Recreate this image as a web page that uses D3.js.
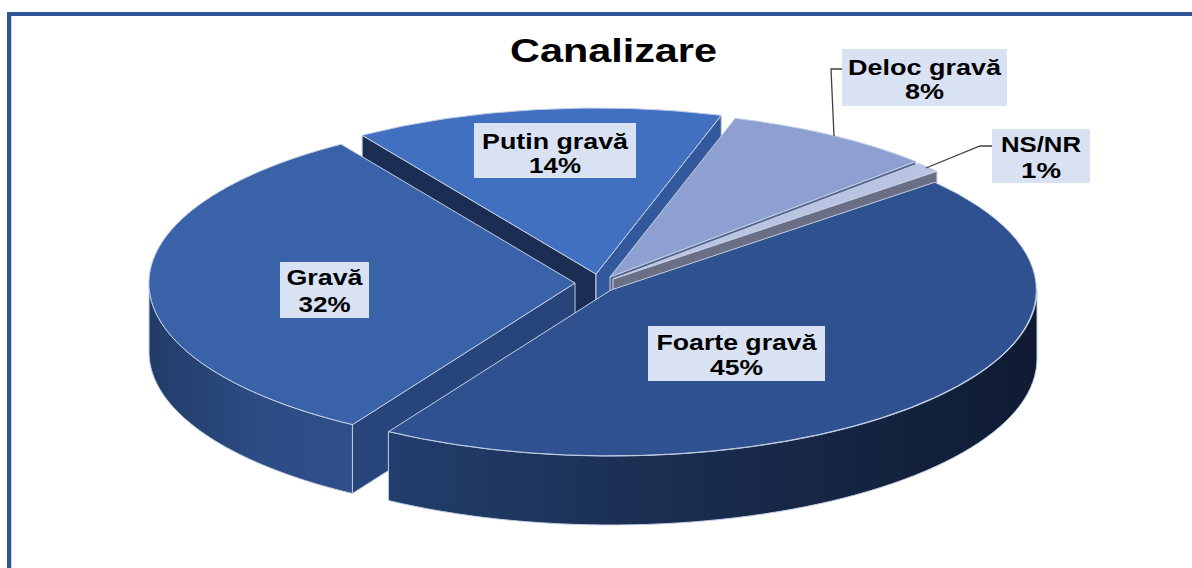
<!DOCTYPE html>
<html>
<head>
<meta charset="utf-8">
<script src="https://cdn.jsdelivr.net/npm/d3@7"></script>
<style>
html, body { margin: 0; padding: 0; background: #fff; }
svg { display: block; }
text { font-family: "Liberation Sans", Arial, sans-serif; font-weight: bold; fill: #000; }
</style>
</head>
<body>
<svg width="1192" height="568"></svg>
<script>
const categories = ["Foarte gravă", "Gravă", "Putin gravă", "Deloc gravă", "NS/NR"];
const values = [45, 32, 14, 8, 1];

const topColors = ["#2f5190", "#3a62a9", "#4170c0", "#8e9fd2", "#b9c4e2"];
const startWallColors = ["#1d3358", "#27457a", "#1b2d53", "#55658f", "#6b6f85"];
const endWallColors = ["#1d3358", "#27457a", "#33589b", "#55658f", "#6b6f85"];
const sideColors = ["#1d3358", "#27457a", "#33589b", "#55658f", "#6b6f85"];
const explode = [[611, 290], [575, 283], [596, 274], [610, 277], [613, 279]];
const drawOrder = [2, 3, 4, 1, 0];

const labelBoxes = [[648, 326, 177, 55], [280, 262, 89, 56], [474, 123, 162, 55], [842, 49, 165, 57], [992, 129, 98, 54]];
const labelWidths = [[160, 53], [76, 52], [146, 52], [153, 39], [80, 40]];
const labelLines = [[24, 49], [23, 50], [26, 50], [26, 50], [23, 49]];

const rx = 426, ry = 166, depth = 69;
const svg = d3.select("svg");
const defs = svg.append("defs");

// frame
svg.append("rect").attr("x", 7).attr("y", 12).attr("width", 1185).attr("height", 4).attr("fill", "#2f5597");
svg.append("rect").attr("x", 7).attr("y", 12).attr("width", 4).attr("height", 556).attr("fill", "#2f5597");
svg.append("rect").attr("x", 11).attr("y", 16).attr("width", 1).attr("height", 552).attr("fill", "#c5d2e8");

function gradient(id, x1, x2, stops) {
    let g = defs.append("linearGradient").attr("id", id)
        .attr("gradientUnits", "userSpaceOnUse")
        .attr("x1", x1).attr("x2", x2).attr("y1", 0).attr("y2", 0);
    stops.forEach(s => g.append("stop").attr("offset", s[0]).attr("stop-color", s[1]));
}
gradient("rim0", 388, 1037, [[0, "#223e6d"], [0.4, "#1b2e52"], [0.75, "#14233f"], [1, "#101b33"]]);
gradient("rim1", 150, 350, [[0, "#223c68"], [0.55, "#2c4c84"], [1, "#2e4f8a"]]);

const pie = d3.pie().sort(null)
    .startAngle(49.5 * Math.PI / 180)
    .endAngle(409.5 * Math.PI / 180);
const arcs = pie(values);

const lineGen = d3.line();
const arcGen = d3.arc().innerRadius(0).outerRadius(1);

function pt(c, a, dy) {
    return [c[0] + rx * Math.sin(a), c[1] - ry * Math.cos(a) + (dy || 0)];
}

function styled(sel) {
    return sel.attr("stroke", "#c3cfe4").attr("stroke-width", 1).attr("stroke-linejoin", "round");
}

function drawWall(c, a, color) {
    let pts = [c, pt(c, a), pt(c, a, depth), [c[0], c[1] + depth]];
    styled(svg.append("path")).attr("d", lineGen(pts) + "Z").attr("fill", color);
}

function drawRim(c, a0, a1, fill) {
    // only the part on the viewer's side of the ellipse, 90deg..270deg in d3 angles
    let from = Math.max(a0, Math.PI / 2), to = Math.min(a1, Math.PI * 1.5);
    if (from >= to) return;
    let samples = d3.range(0, 61).map(i => from + (to - from) * i / 60);
    let upper = samples.map(a => pt(c, a));
    let lower = samples.slice().reverse().map(a => pt(c, a, depth));
    styled(svg.append("path")).attr("d", lineGen(upper.concat(lower)) + "Z").attr("fill", fill);
}

drawOrder.forEach(i => {
    let d = arcs[i], c = explode[i];
    // cut faces: visible when they turn toward the viewer
    if (-Math.sin(d.startAngle) > 0) drawWall(c, d.startAngle, startWallColors[i]);
    if (Math.sin(d.endAngle) > 0) drawWall(c, d.endAngle, endWallColors[i]);
    drawRim(c, d.startAngle, d.endAngle, i < 2 ? "url(#rim" + i + ")" : sideColors[i]);
    styled(svg.append("path"))
        .attr("d", arcGen({ startAngle: d.startAngle, endAngle: d.endAngle }))
        .attr("transform", `translate(${c[0]},${c[1]}) scale(${rx},${ry})`)
        .attr("vector-effect", "non-scaling-stroke")
        .attr("fill", topColors[i]);
});

// leader lines
const leaderDeloc = [[842, 69], [831, 69], [834, 136]];
const leaderNs = [[992, 146], [980, 146], [926, 168]];
[leaderDeloc, leaderNs].forEach(p => {
    svg.append("path").attr("d", lineGen(p)).attr("fill", "none")
        .attr("stroke", "#404040").attr("stroke-width", 1.3);
});

// title
svg.append("text").attr("x", 613.5).attr("y", 62).attr("text-anchor", "middle")
    .attr("font-size", 33).attr("textLength", 207).attr("lengthAdjust", "spacingAndGlyphs")
    .text("Canalizare");

// data labels
categories.forEach((name, i) => {
    let b = labelBoxes[i], mid = b[0] + b[2] / 2, top = b[1];
    svg.append("rect").attr("x", b[0]).attr("y", b[1]).attr("width", b[2]).attr("height", b[3]).attr("fill", "#d9e2f3");
    svg.append("text").attr("x", mid).attr("y", top + labelLines[i][0]).attr("text-anchor", "middle")
        .attr("font-size", 22).attr("textLength", labelWidths[i][0]).attr("lengthAdjust", "spacingAndGlyphs")
        .text(name);
    svg.append("text").attr("x", mid).attr("y", top + labelLines[i][1]).attr("text-anchor", "middle")
        .attr("font-size", 22).attr("textLength", labelWidths[i][1]).attr("lengthAdjust", "spacingAndGlyphs")
        .text(values[i] + "%");
});
</script>
</body>
</html>
